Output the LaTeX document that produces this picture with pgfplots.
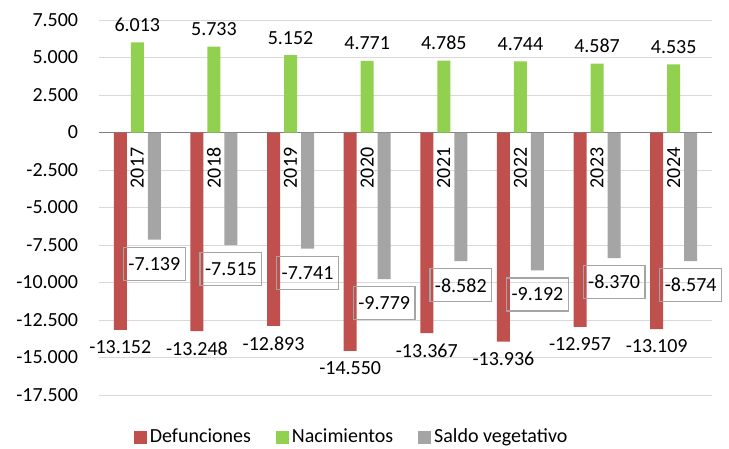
\documentclass[border=0pt]{standalone}
\usepackage{pgfplots}
\pgfplotsset{compat=1.18}
\usepackage{pgfplotstable}
\usepackage{fontspec}
\setmainfont{Carlito}
\definecolor{cRed}{HTML}{C0504D}
\definecolor{cGreen}{HTML}{92D050}
\definecolor{cGray}{HTML}{A5A5A5}
\definecolor{cGrid}{HTML}{D9D9D9}
\definecolor{cAxis}{HTML}{808080}
\pgfplotsset{sqlegend/.style={legend image code/.code={\fill[##1] (0pt,-6.5pt) rectangle (13pt,6.5pt);}}}
\pgfplotstableread{
x def nac sal
0 -13152 6013 -7139
1 -13248 5733 -7515
2 -12893 5152 -7741
3 -14550 4771 -9779
4 -13367 4785 -8582
5 -13936 4744 -9192
6 -12957 4587 -8370
7 -13109 4535 -8574
}\datatable
\begin{document}
\fontsize{20}{24}\selectfont
\begin{tikzpicture}
\useasboundingbox (-99pt,-53pt) rectangle (630pt,395pt);
\begin{axis}[
  scale only axis, width=613pt, height=375pt,
  ybar=4pt, bar width=13pt,
  xmin=-0.5, xmax=7.5, ymin=-17500, ymax=7500,
  ytick={-17500,-15000,...,7500},
  xtick={0,1,2,3,4,5,6,7},
  xticklabels={2017,2018,2019,2020,2021,2022,2023,2024},
  axis x line=middle, axis y line=left,
  x axis line style={-, draw=cAxis, line width=1.4pt},
  y axis line style={draw=none},
  major tick length=0pt,
  ymajorgrids, grid style={cGrid, line width=0.9pt},
  /pgf/number format/.cd, fixed, precision=0, 1000 sep={.}, assume math mode=true,
  /pgfplots/.cd,
  scaled y ticks=false,
  yticklabel style={xshift=-14pt},
  xticklabel style={rotate=90, anchor=east, inner xsep=15pt},
  legend style={at={(axis description cs:0.413,-0.113)}, anchor=center, draw=none, fill=none,
    legend columns=3, nodes={inner xsep=3pt},
    /tikz/every even column/.append style={column sep=22pt}},
  legend cell align=left,
]
\addplot[fill=cRed, draw=none, sqlegend, nodes near coords,
  every node near coord/.append style={anchor=north, yshift=-4pt, text=black}]
  table[x=x, y=def] {\datatable};
\addplot[fill=cGreen, draw=none, sqlegend, nodes near coords,
  every node near coord/.append style={anchor=south, yshift=4pt, text=black}]
  table[x=x, y=nac] {\datatable};
\addplot[fill=cGray, draw=none, sqlegend, nodes near coords,
  every node near coord/.append style={anchor=north, yshift=-7pt, draw=cGray, line width=1.2pt, minimum height=33pt, inner xsep=5pt, text=black}]
  table[x=x, y=sal] {\datatable};
\legend{Defunciones, Nacimientos, Saldo vegetativo}
\end{axis}
\end{tikzpicture}
\end{document}
